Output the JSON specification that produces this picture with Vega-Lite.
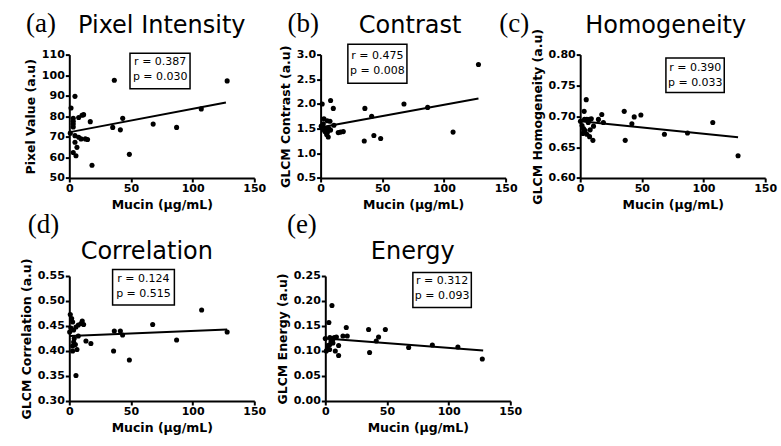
{
  "$schema": "https://vega.github.io/schema/vega-lite/v6.json",
  "padding": {"left": 19.3, "top": 9.6, "right": 5, "bottom": 5},
  "background": "white",
  "config": {
    "view": {"stroke": null},
    "axis": {"domainColor": "black", "domainWidth": 2, "tickColor": "black", "tickWidth": 2, "tickSize": 4, "labelFont": "DejaVu Sans", "labelFontSize": 11, "labelFontWeight": "bold", "labelColor": "black", "labelPadding": 1, "titleFont": "DejaVu Sans", "titleFontSize": 12.5, "titleFontWeight": "bold", "titleColor": "black", "grid": false, "labelOverlap": false},
    "axisX": {"titlePadding": 5, "labelFlush": false},
    "axisY": {"titlePadding": 4},
    "title": {"font": "DejaVu Sans", "fontSize": 24, "fontWeight": "normal", "color": "black", "anchor": "middle", "frame": "group", "baseline": "alphabetic"},
    "text": {"font": "DejaVu Sans", "color": "black"},
    "line": {"color": "black", "strokeWidth": 2},
    "circle": {"color": "black", "opacity": 1, "size": 26},
    "rect": {"fill": "white", "stroke": "black", "strokeWidth": 1.5}
  },
  "datasets": {
    "a_points": [{"x":128,"y":97.2},{"x":107,"y":83.6},{"x":87,"y":74.6},{"x":68,"y":76.2},{"x":36.5,"y":97.5},{"x":35.2,"y":74.6},{"x":41.4,"y":73.4},{"x":43.3,"y":79},{"x":48.7,"y":61.5},{"x":17,"y":77.4},{"x":18.4,"y":56.2},{"x":1.4,"y":84},{"x":4.6,"y":89.7},{"x":3.2,"y":79},{"x":3.2,"y":77.6},{"x":3.2,"y":76.2},{"x":3.2,"y":74.8},{"x":0.8,"y":71.8},{"x":4.6,"y":70.6},{"x":7.6,"y":79.4},{"x":10.3,"y":80.5},{"x":11.6,"y":80.8},{"x":7.6,"y":69.8},{"x":9.5,"y":69},{"x":13,"y":69},{"x":14.8,"y":68.7},{"x":4.6,"y":67.4},{"x":6.2,"y":64.9},{"x":3.2,"y":62.4},{"x":5.4,"y":60.8}],
    "a_fit": [{"x":0.5,"y":72.3},{"x":127,"y":86.7}],
    "b_points": [{"x":128,"y":2.8},{"x":107.4,"y":1.43},{"x":86.8,"y":1.93},{"x":67.6,"y":2.0},{"x":35.9,"y":1.91},{"x":41.4,"y":1.75},{"x":35.4,"y":1.25},{"x":43.2,"y":1.36},{"x":48.7,"y":1.3},{"x":14.3,"y":1.42},{"x":16.2,"y":1.43},{"x":18.4,"y":1.44},{"x":8.1,"y":2.07},{"x":10.3,"y":1.91},{"x":1.3,"y":2.0},{"x":2.7,"y":1.7},{"x":5.4,"y":1.66},{"x":7.6,"y":1.65},{"x":1.6,"y":1.52},{"x":4,"y":1.5},{"x":8.1,"y":1.47},{"x":10.8,"y":1.57},{"x":3.5,"y":1.44},{"x":4.9,"y":1.38},{"x":6.2,"y":1.33},{"x":0.5,"y":1.55},{"x":3,"y":1.47},{"x":5.5,"y":1.42},{"x":6.8,"y":1.5},{"x":2.2,"y":1.6}],
    "b_fit": [{"x":0.5,"y":1.53},{"x":128,"y":2.11}],
    "c_points": [{"x":128,"y":0.636},{"x":107.5,"y":0.69},{"x":87,"y":0.673},{"x":68.3,"y":0.671},{"x":35.7,"y":0.708},{"x":36.5,"y":0.661},{"x":41.9,"y":0.688},{"x":43.8,"y":0.699},{"x":49.2,"y":0.702},{"x":17.5,"y":0.703},{"x":14.8,"y":0.695},{"x":18.8,"y":0.69},{"x":10.8,"y":0.684},{"x":4.9,"y":0.727},{"x":3.2,"y":0.708},{"x":0.2,"y":0.692},{"x":3.5,"y":0.695},{"x":5.4,"y":0.695},{"x":7.6,"y":0.695},{"x":2.7,"y":0.68},{"x":4,"y":0.677},{"x":2.2,"y":0.672},{"x":5.4,"y":0.671},{"x":7.6,"y":0.667},{"x":10.3,"y":0.661},{"x":8.1,"y":0.678},{"x":1.5,"y":0.685},{"x":6.5,"y":0.69},{"x":9,"y":0.696},{"x":3,"y":0.675}],
    "c_fit": [{"x":0.5,"y":0.692},{"x":128,"y":0.666}],
    "d_points": [{"x":128,"y":0.438},{"x":107.3,"y":0.482},{"x":87,"y":0.422},{"x":67.6,"y":0.453},{"x":35.9,"y":0.4},{"x":36.5,"y":0.44},{"x":41.4,"y":0.44},{"x":43.2,"y":0.432},{"x":48.7,"y":0.382},{"x":13.5,"y":0.42},{"x":17.5,"y":0.415},{"x":0.8,"y":0.473},{"x":1.9,"y":0.465},{"x":2.7,"y":0.458},{"x":0.3,"y":0.438},{"x":1.3,"y":0.446},{"x":3.5,"y":0.442},{"x":5.4,"y":0.448},{"x":7.3,"y":0.452},{"x":9.5,"y":0.455},{"x":11.6,"y":0.453},{"x":7.3,"y":0.43},{"x":3.5,"y":0.418},{"x":4.9,"y":0.413},{"x":2.7,"y":0.41},{"x":2.7,"y":0.4},{"x":6.2,"y":0.403},{"x":5.4,"y":0.351},{"x":4,"y":0.425},{"x":10.5,"y":0.46}],
    "d_fit": [{"x":0.5,"y":0.43},{"x":128,"y":0.443}],
    "e_points": [{"x":127.3,"y":0.084},{"x":107.5,"y":0.108},{"x":86.8,"y":0.112},{"x":67.6,"y":0.107},{"x":35.1,"y":0.143},{"x":35.9,"y":0.097},{"x":41.3,"y":0.12},{"x":43.2,"y":0.128},{"x":48.7,"y":0.143},{"x":14.3,"y":0.13},{"x":17,"y":0.147},{"x":17.8,"y":0.13},{"x":5.4,"y":0.191},{"x":2.9,"y":0.157},{"x":0,"y":0.125},{"x":3.7,"y":0.127},{"x":5.4,"y":0.125},{"x":7.3,"y":0.127},{"x":4.6,"y":0.12},{"x":6.2,"y":0.116},{"x":3.7,"y":0.113},{"x":2.1,"y":0.111},{"x":1.6,"y":0.103},{"x":3.5,"y":0.103},{"x":0.8,"y":0.1},{"x":8.1,"y":0.1},{"x":10.8,"y":0.091},{"x":10.8,"y":0.111},{"x":9,"y":0.128},{"x":6,"y":0.122}],
    "e_fit": [{"x":0.5,"y":0.125},{"x":128,"y":0.101}]
  },
  "concat": [
    {
      "hconcat": [
        {
          "width": 185, "height": 123.4,
          "title": {"text": "Pixel Intensity", "offset": -28},
          "layer": [
            {"data": {"values": [{}]}, "mark": "rect", "encoding": {"x": {"datum": 49.2}, "x2": {"datum": 97.9}, "y": {"datum": 110.6, "axis": {"title": "Pixel Value (a.u)", "values": [50, 60, 70, 80, 90, 100, 110], "tickCount": 20, "labelOverlap": false}}, "y2": {"datum": 93.4}}},
            {"data": {"values": [{}]}, "mark": {"type": "text", "text": ["r = 0.387", "p = 0.030"], "fontSize": 11, "lineHeight": 15, "align": "center", "baseline": "middle"}, "encoding": {"x": {"datum": 73.7}, "y": {"datum": 106.3, "axis": {"title": "Pixel Value (a.u)", "values": [50, 60, 70, 80, 90, 100, 110], "tickCount": 20, "labelOverlap": false}}}},
            {"data": {"values": [{}]}, "mark": {"type": "text", "text": "(a)", "font": "Liberation Serif", "fontSize": 27, "align": "center", "baseline": "alphabetic"}, "encoding": {"x": {"datum": -23}, "y": {"datum": 121, "axis": {"title": "Pixel Value (a.u)", "values": [50, 60, 70, 80, 90, 100, 110], "tickCount": 20, "labelOverlap": false}}}},
            {"data": {"name": "a_fit"}, "mark": "line", "encoding": {"x": {"field": "x", "type": "quantitative"}, "y": {"field": "y", "type": "quantitative"}}},
            {"data": {"name": "a_points"}, "mark": "circle", "encoding": {
              "x": {"field": "x", "type": "quantitative", "scale": {"domain": [0, 150], "nice": false, "zero": false}, "axis": {"title": "Mucin (µg/mL)", "values": [0, 50, 100, 150], "tickCount": 10, "labelOverlap": false}},
              "y": {"field": "y", "type": "quantitative", "scale": {"domain": [50, 110], "nice": false, "zero": false}, "axis": {"title": "Pixel Value (a.u)", "values": [50, 60, 70, 80, 90, 100, 110], "tickCount": 20, "labelOverlap": false}}}}
          ]
        },
        {
          "spacing": 74.6,
          "bounds": "flush",
          "hconcat": [
            {
              "width": 185, "height": 123.4,
              "title": {"text": "Contrast", "offset": -28, "dx": -3},
              "layer": [
                {"data": {"values": [{}]}, "mark": "rect", "encoding": {"x": {"datum": 22.1}, "x2": {"datum": 70}, "y": {"datum": 3.21, "axis": {"title": "GLCM Contrast (a.u)", "values": [0.5, 1.0, 1.5, 2.0, 2.5, 3.0], "format": ".1f", "tickCount": 20, "labelOverlap": false}}, "y2": {"datum": 2.42}}},
                {"data": {"values": [{}]}, "mark": {"type": "text", "text": ["r = 0.475", "p = 0.008"], "fontSize": 11, "lineHeight": 15, "align": "center", "baseline": "middle"}, "encoding": {"x": {"datum": 46}, "y": {"datum": 2.966, "axis": {"title": "GLCM Contrast (a.u)", "values": [0.5, 1.0, 1.5, 2.0, 2.5, 3.0], "format": ".1f", "tickCount": 20, "labelOverlap": false}}}},
                {"data": {"values": [{}]}, "mark": {"type": "text", "text": "(b)", "font": "Liberation Serif", "fontSize": 27, "align": "center", "baseline": "alphabetic"}, "encoding": {"x": {"datum": -14.1}, "y": {"datum": 3.45, "axis": {"title": "GLCM Contrast (a.u)", "values": [0.5, 1.0, 1.5, 2.0, 2.5, 3.0], "format": ".1f", "tickCount": 20, "labelOverlap": false}}}},
                {"data": {"name": "b_fit"}, "mark": "line", "encoding": {"x": {"field": "x", "type": "quantitative"}, "y": {"field": "y", "type": "quantitative"}}},
                {"data": {"name": "b_points"}, "mark": "circle", "encoding": {
                  "x": {"field": "x", "type": "quantitative", "scale": {"domain": [0, 150], "nice": false, "zero": false}, "axis": {"title": "Mucin (µg/mL)", "values": [0, 50, 100, 150], "tickCount": 10, "labelOverlap": false}},
                  "y": {"field": "y", "type": "quantitative", "scale": {"domain": [0.5, 3.0], "nice": false, "zero": false}, "axis": {"title": "GLCM Contrast (a.u)", "values": [0.5, 1.0, 1.5, 2.0, 2.5, 3.0], "format": ".1f", "tickCount": 20, "labelOverlap": false}}}}
              ]
            },
            {
              "width": 185, "height": 123.4,
              "title": {"text": "Homogeneity", "offset": -28, "dx": -7},
              "layer": [
                {"data": {"values": [{}]}, "mark": "rect", "encoding": {"x": {"datum": 69.5}, "x2": {"datum": 116.8}, "y": {"datum": 0.7946, "axis": {"title": "GLCM Homogeneity (a.u)", "values": [0.6, 0.65, 0.7, 0.75, 0.8], "format": ".2f", "tickCount": 20, "labelOverlap": false}}, "y2": {"datum": 0.7385}}},
                {"data": {"values": [{}]}, "mark": {"type": "text", "text": ["r = 0.390", "p = 0.033"], "fontSize": 11, "lineHeight": 15, "align": "center", "baseline": "middle"}, "encoding": {"x": {"datum": 93.3}, "y": {"datum": 0.778, "axis": {"title": "GLCM Homogeneity (a.u)", "values": [0.6, 0.65, 0.7, 0.75, 0.8], "format": ".2f", "tickCount": 20, "labelOverlap": false}}}},
                {"data": {"values": [{}]}, "mark": {"type": "text", "text": "(c)", "font": "Liberation Serif", "fontSize": 27, "align": "center", "baseline": "alphabetic"}, "encoding": {"x": {"datum": -53.5}, "y": {"datum": 0.836, "axis": {"title": "GLCM Homogeneity (a.u)", "values": [0.6, 0.65, 0.7, 0.75, 0.8], "format": ".2f", "tickCount": 20, "labelOverlap": false}}}},
                {"data": {"name": "c_fit"}, "mark": "line", "encoding": {"x": {"field": "x", "type": "quantitative"}, "y": {"field": "y", "type": "quantitative"}}},
                {"data": {"name": "c_points"}, "mark": "circle", "encoding": {
                  "x": {"field": "x", "type": "quantitative", "scale": {"domain": [0, 150], "nice": false, "zero": false}, "axis": {"title": "Mucin (µg/mL)", "values": [0, 50, 100, 150], "tickCount": 10, "labelOverlap": false}},
                  "y": {"field": "y", "type": "quantitative", "scale": {"domain": [0.6, 0.8], "nice": false, "zero": false}, "axis": {"title": "GLCM Homogeneity (a.u)", "values": [0.6, 0.65, 0.7, 0.75, 0.8], "format": ".2f", "tickCount": 20, "labelOverlap": false}}}}
              ]
            }
          ]
        }
      ],
      "spacing": 66.3,
      "bounds": "flush"
    },
    {
      "hconcat": [
        {
          "width": 185, "height": 125,
          "title": {"text": "Correlation", "offset": -53, "dx": -15},
          "layer": [
            {"data": {"values": [{}]}, "mark": "rect", "encoding": {"x": {"datum": 35.1}, "x2": {"datum": 85.2}, "y": {"datum": 0.563, "axis": {"title": "GLCM Correlation (a.u)", "values": [0.3, 0.35, 0.4, 0.45, 0.5, 0.55], "format": ".2f", "tickCount": 20, "labelOverlap": false}}, "y2": {"datum": 0.492}}},
            {"data": {"values": [{}]}, "mark": {"type": "text", "text": ["r = 0.124", "p = 0.515"], "fontSize": 11, "lineHeight": 15, "align": "center", "baseline": "middle"}, "encoding": {"x": {"datum": 60.1}, "y": {"datum": 0.543, "axis": {"title": "GLCM Correlation (a.u)", "values": [0.3, 0.35, 0.4, 0.45, 0.5, 0.55], "format": ".2f", "tickCount": 20, "labelOverlap": false}}}},
            {"data": {"values": [{}]}, "mark": {"type": "text", "text": "(d)", "font": "Liberation Serif", "fontSize": 27, "align": "center", "baseline": "alphabetic"}, "encoding": {"x": {"datum": -21}, "y": {"datum": 0.636, "axis": {"title": "GLCM Correlation (a.u)", "values": [0.3, 0.35, 0.4, 0.45, 0.5, 0.55], "format": ".2f", "tickCount": 20, "labelOverlap": false}}}},
            {"data": {"name": "d_fit"}, "mark": "line", "encoding": {"x": {"field": "x", "type": "quantitative"}, "y": {"field": "y", "type": "quantitative"}}},
            {"data": {"name": "d_points"}, "mark": "circle", "encoding": {
              "x": {"field": "x", "type": "quantitative", "scale": {"domain": [0, 150], "nice": false, "zero": false}, "axis": {"title": "Mucin (µg/mL)", "values": [0, 50, 100, 150], "tickCount": 10, "labelOverlap": false}},
              "y": {"field": "y", "type": "quantitative", "scale": {"domain": [0.3, 0.55], "nice": false, "zero": false}, "axis": {"title": "GLCM Correlation (a.u)", "values": [0.3, 0.35, 0.4, 0.45, 0.5, 0.55], "format": ".2f", "tickCount": 20, "labelOverlap": false}}}}
          ]
        },
        {
          "width": 185, "height": 125,
          "title": {"text": "Energy", "offset": -53, "dx": -5},
          "layer": [
            {"data": {"values": [{}]}, "mark": "rect", "encoding": {"x": {"datum": 71}, "x2": {"datum": 118.4}, "y": {"datum": 0.257, "axis": {"title": "GLCM Energy (a.u)", "values": [0, 0.05, 0.1, 0.15, 0.2, 0.25], "format": ".2f", "tickCount": 20, "labelOverlap": false}}, "y2": {"datum": 0.187}}},
            {"data": {"values": [{}]}, "mark": {"type": "text", "text": ["r = 0.312", "p = 0.093"], "fontSize": 11, "lineHeight": 15, "align": "center", "baseline": "middle"}, "encoding": {"x": {"datum": 94.7}, "y": {"datum": 0.24, "axis": {"title": "GLCM Energy (a.u)", "values": [0, 0.05, 0.1, 0.15, 0.2, 0.25], "format": ".2f", "tickCount": 20, "labelOverlap": false}}}},
            {"data": {"values": [{}]}, "mark": {"type": "text", "text": "(e)", "font": "Liberation Serif", "fontSize": 27, "align": "center", "baseline": "alphabetic"}, "encoding": {"x": {"datum": -19}, "y": {"datum": 0.336, "axis": {"title": "GLCM Energy (a.u)", "values": [0, 0.05, 0.1, 0.15, 0.2, 0.25], "format": ".2f", "tickCount": 20, "labelOverlap": false}}}},
            {"data": {"name": "e_fit"}, "mark": "line", "encoding": {"x": {"field": "x", "type": "quantitative"}, "y": {"field": "y", "type": "quantitative"}}},
            {"data": {"name": "e_points"}, "mark": "circle", "encoding": {
              "x": {"field": "x", "type": "quantitative", "scale": {"domain": [0, 150], "nice": false, "zero": false}, "axis": {"title": "Mucin (µg/mL)", "values": [0, 50, 100, 150], "tickCount": 10, "labelOverlap": false}},
              "y": {"field": "y", "type": "quantitative", "scale": {"domain": [0, 0.25], "nice": false, "zero": false}, "axis": {"title": "GLCM Energy (a.u)", "values": [0, 0.05, 0.1, 0.15, 0.2, 0.25], "format": ".2f", "tickCount": 20, "labelOverlap": false}}}}
          ]
        }
      ],
      "spacing": 71,
      "bounds": "flush"
    }
  ],
  "columns": 1,
  "align": "none",
  "spacing": -0.6
}
